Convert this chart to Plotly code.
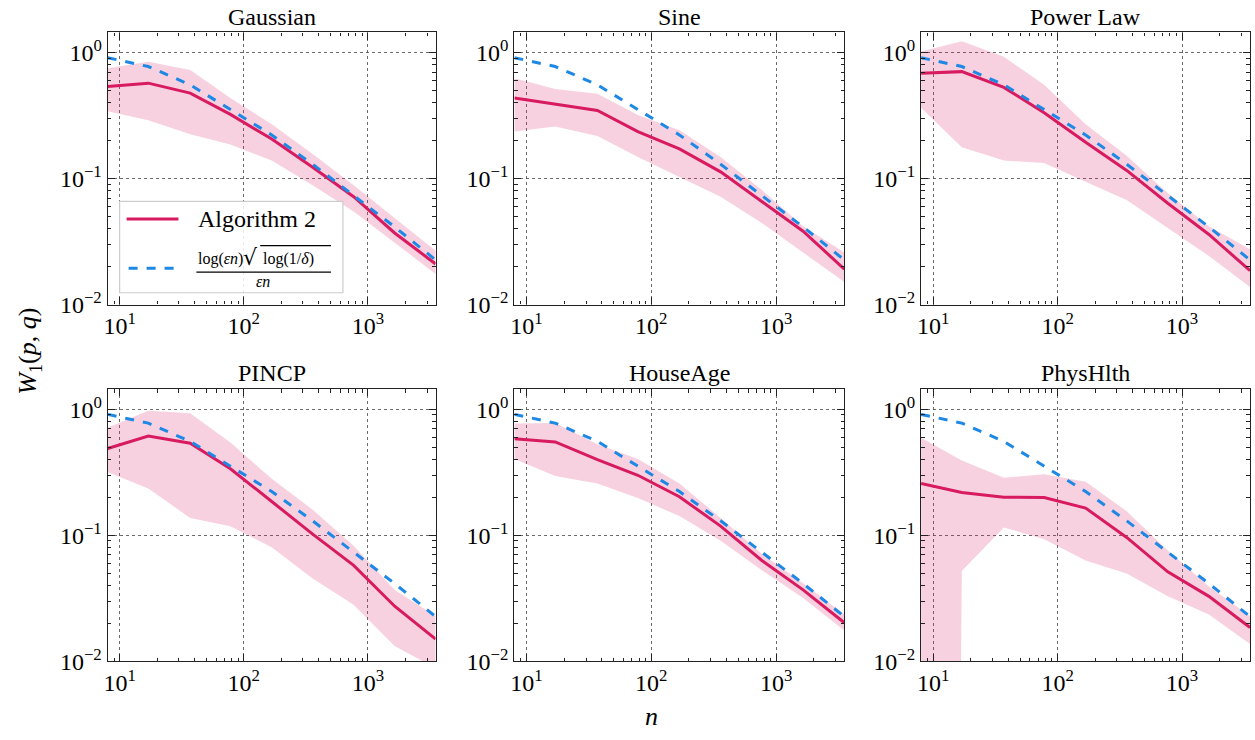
import plotly.graph_objects as go
import numpy as np

W, H = 1255, 740

# ---------------- data ----------------
n_vals = [8, 17, 37, 78, 168, 359, 768, 1644, 3516]
bound_vals = [0.91, 0.775, 0.555, 0.352, 0.222, 0.130, 0.0735, 0.0413, 0.0226]

titles = ["Gaussian", "Sine", "Power Law", "PINCP", "HouseAge", "PhysHlth"]

gaussian_mean = [0.538, 0.572, 0.477, 0.323, 0.206, 0.123, 0.0718, 0.037, 0.0210]
gaussian_upper = [0.75, 0.845, 0.727, 0.436, 0.27, 0.157, 0.0887, 0.0486, 0.0267]
gaussian_lower = [0.343, 0.29, 0.225, 0.186, 0.139, 0.0887, 0.0548, 0.031, 0.0175]

sine_mean = [0.436, 0.387, 0.347, 0.236, 0.172, 0.113, 0.0656, 0.0382, 0.0191]
sine_upper = [0.625, 0.513, 0.472, 0.319, 0.242, 0.148, 0.081, 0.0418, 0.0259]
sine_lower = [0.236, 0.259, 0.218, 0.148, 0.103, 0.0718, 0.0444, 0.0259, 0.0151]

power_mean = [0.685, 0.706, 0.529, 0.333, 0.194, 0.116, 0.0637, 0.036, 0.0186]
power_upper = [1.02, 1.23, 0.925, 0.555, 0.27, 0.152, 0.0763, 0.0418, 0.0275]
power_lower = [0.364, 0.177, 0.139, 0.133, 0.0942, 0.0676, 0.0405, 0.0243, 0.0138]

pincp_mean = [0.488, 0.612, 0.537, 0.337, 0.185, 0.102, 0.0576, 0.0273, 0.0150]
pincp_upper = [0.711, 0.97, 0.93, 0.543, 0.281, 0.159, 0.0826, 0.0368, 0.0228]
pincp_lower = [0.317, 0.235, 0.137, 0.118, 0.0802, 0.0454, 0.0281, 0.0132, 0.0088]

house_mean = [0.583, 0.55, 0.398, 0.299, 0.202, 0.118, 0.063, 0.0368, 0.0202]
house_upper = [0.769, 0.778, 0.527, 0.403, 0.257, 0.137, 0.0711, 0.0415, 0.0235]
house_lower = [0.403, 0.295, 0.257, 0.197, 0.142, 0.0904, 0.0527, 0.0317, 0.0175]

phys_mean = [0.257, 0.218, 0.2, 0.199, 0.164, 0.096, 0.0512, 0.0327, 0.0185]
phys_upper = [0.594, 0.391, 0.286, 0.304, 0.265, 0.155, 0.0755, 0.0391, 0.0228]
phys_lower = [1e-40, 0.052, 0.115, 0.093, 0.063, 0.0497, 0.0327, 0.0235, 0.0137]

means = [gaussian_mean, sine_mean, power_mean, pincp_mean, house_mean, phys_mean]
uppers = [gaussian_upper, sine_upper, power_upper, pincp_upper, house_upper, phys_upper]
lowers = [gaussian_lower, sine_lower, power_lower, pincp_lower, house_lower, phys_lower]

x_tickvals = [10, 100, 1000]
x_ticktext = ["10<sup>1</sup>", "10<sup>2</sup>", "10<sup>3</sup>"]
y_tickvals = [0.01, 0.1, 1]
y_ticktext = ["10<sup>\u22122</sup>", "10<sup>\u22121</sup>", "10<sup>0</sup>"]

minor_x = [m * 10 ** e for e in range(0, 4) for m in range(2, 10)]
minor_y = [m * 10.0 ** e for e in range(-2, 1) for m in range(2, 10)]

# ---------------- style ----------------
RED = "#D81B60"
BLUE = "#1E88E5"
BAND = "rgba(216,27,96,0.20)"
FONT = "Liberation Serif"

col_px = [(104, 433), (512, 843), (920, 1250)]
row_px = [(33, 310), (396, 673)]

def px2x(px):
    return px / W

def px2y(py):
    return 1 - py / H

fig = go.Figure()

for i in range(6):
    r, c = divmod(i, 3)
    ax = "" if i == 0 else str(i + 1)
    xref = "x" + ax
    yref = "y" + ax
    fig.add_trace(go.Scatter(
        x=n_vals + n_vals[::-1], y=uppers[i] + lowers[i][::-1],
        fill="toself", fillcolor=BAND, line=dict(width=0),
        mode="lines", hoverinfo="skip", showlegend=False,
        xaxis=xref, yaxis=yref))
    fig.add_trace(go.Scatter(
        x=n_vals, y=means[i], mode="lines",
        line=dict(color=RED, width=3), showlegend=False,
        xaxis=xref, yaxis=yref))
    fig.add_trace(go.Scatter(
        x=n_vals, y=bound_vals, mode="lines",
        line=dict(color=BLUE, width=3, dash="dash"), showlegend=False,
        xaxis=xref, yaxis=yref))

    xl, xr = col_px[c]
    yt, yb = row_px[r]
    common = dict(
        type="log", showline=True, linecolor="#222", linewidth=1.2, mirror="allticks",
        ticks="inside", ticklen=7, tickwidth=1, tickcolor="#222",
        showgrid=True, gridcolor="rgba(70,70,70,0.8)", griddash="dot", gridwidth=0.8,
        zeroline=False,
        tickfont=dict(family=FONT, size=24, color="black"),
    )
    fig.layout["xaxis" + ax] = dict(
        common, domain=[px2x(xl), px2x(xr)], anchor=yref,
        range=[np.log10(n_vals[0]), np.log10(n_vals[-1])],
        tickvals=x_tickvals, ticktext=x_ticktext,
        minor=dict(tickvals=minor_x, ticks="inside", ticklen=3.5, tickwidth=0.8,
                   tickcolor="#222", showgrid=False))
    fig.layout["yaxis" + ax] = dict(
        common, domain=[px2y(yb), px2y(yt)], anchor=xref,
        range=[-2, 0.16],
        tickvals=y_tickvals, ticktext=y_ticktext,
        minor=dict(tickvals=minor_y, ticks="inside", ticklen=3.5, tickwidth=0.8,
                   tickcolor="#222", showgrid=False))
    fig.add_annotation(
        text=titles[i], x=(px2x(xl) + px2x(xr)) / 2, y=px2y(yt - 16),
        xref="paper", yref="paper", xanchor="center", yanchor="middle",
        showarrow=False, font=dict(family=FONT, size=24, color="black"))

fig.add_annotation(text="<i>n</i>", x=px2x(650), y=px2y(729), xref="paper", yref="paper",
                   xanchor="center", yanchor="middle",
                   showarrow=False, font=dict(family=FONT, size=26, color="black"))
fig.add_annotation(text="<i>W</i><sub>1</sub>(<i>p</i>, <i>q</i>)", x=px2x(25), y=px2y(357),
                   xref="paper", yref="paper", textangle=-90, showarrow=False,
                   xanchor="center", yanchor="middle",
                   font=dict(family=FONT, size=26, color="black"))

# manual legend in first panel
shapes = []
shapes.append(dict(type="rect", xref="paper", yref="paper",
                   x0=px2x(116), x1=px2x(340), y0=px2y(298), y1=px2y(205),
                   line=dict(color="rgba(205,205,205,1)", width=1.2),
                   fillcolor="rgba(255,255,255,0.85)", layer="above"))
shapes.append(dict(type="line", xref="paper", yref="paper",
                   x0=px2x(123), x1=px2x(175), y0=px2y(223), y1=px2y(223),
                   line=dict(color=RED, width=3), layer="above"))
shapes.append(dict(type="line", xref="paper", yref="paper",
                   x0=px2x(125), x1=px2x(171), y0=px2y(273), y1=px2y(273),
                   line=dict(color=BLUE, width=3, dash="dash"), layer="above"))
shapes.append(dict(type="line", xref="paper", yref="paper",
                   x0=px2x(193), x1=px2x(328), y0=px2y(277), y1=px2y(277),
                   line=dict(color="black", width=1.4), layer="above"))
shapes.append(dict(type="line", xref="paper", yref="paper",
                   x0=px2x(257), x1=px2x(328), y0=px2y(250), y1=px2y(250),
                   line=dict(color="black", width=1.1), layer="above"))
fig.update_layout(shapes=shapes)

fig.add_annotation(text="Algorithm 2", x=px2x(193), y=px2y(223), xref="paper", yref="paper",
                   xanchor="left", yanchor="middle", showarrow=False,
                   font=dict(family=FONT, size=24, color="black"))
fig.add_annotation(text="log(<i>\u03b5n</i>)", x=px2x(193), y=px2y(264), xref="paper", yref="paper",
                   xanchor="left", yanchor="middle", showarrow=False,
                   font=dict(family=FONT, size=16, color="black"))
fig.add_annotation(text="\u221a", x=px2x(257), y=px2y(262), xref="paper", yref="paper",
                   xanchor="right", yanchor="middle", showarrow=False,
                   font=dict(family="DejaVu Serif", size=22, color="black"))
fig.add_annotation(text="log(1/<i>\u03b4</i>)", x=px2x(258), y=px2y(264), xref="paper", yref="paper",
                   xanchor="left", yanchor="middle", showarrow=False,
                   font=dict(family=FONT, size=16, color="black"))
fig.add_annotation(text="<i>\u03b5n</i>", x=px2x(260), y=px2y(287), xref="paper", yref="paper",
                   xanchor="center", yanchor="middle", showarrow=False,
                   font=dict(family=FONT, size=16, color="black"))

fig.update_layout(
    width=W, height=H, margin=dict(l=0, r=0, t=0, b=0),
    paper_bgcolor="white", plot_bgcolor="white",
    showlegend=False, font=dict(family=FONT, color="black"),
)

fig.write_html("out.html", config={"displayModeBar": False},
               post_script="document.body.style.margin='0px';document.body.style.overflow='hidden';")
